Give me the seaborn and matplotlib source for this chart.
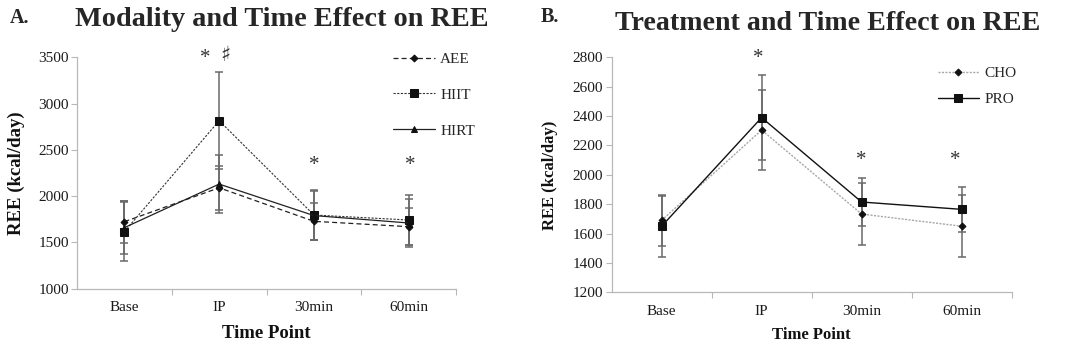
import numpy as np
import pandas as pd
import matplotlib
matplotlib.use("Agg")
import matplotlib.pyplot as plt
import seaborn as sns

# ---------------- data ----------------
time_points = ["Base", "IP", "30min", "60min"]

# Panel A: modality
aee_mean = [1724, 2090, 1728, 1670]
aee_sd = [225, 235, 200, 200]
hiit_mean = [1616, 2815, 1796, 1742]
hiit_sd = [316, 525, 270, 270]
hirt_mean = [1660, 2130, 1790, 1710]
hirt_sd = [285, 315, 265, 255]

# Panel B: treatment
cho_mean = [1690, 2305, 1733, 1650]
cho_sd = [175, 275, 210, 210]
pro_mean = [1650, 2390, 1815, 1765]
pro_sd = [208, 290, 165, 155]

title_a = "Modality and Time Effect on REE"
title_b = "Treatment and Time Effect on REE"
ylabel = "REE (kcal/day)"
xlabel = "Time Point"

# ---------------- style ----------------
sns.set_theme(style="white")
plt.rcParams["font.family"] = ["Liberation Serif", "DejaVu Sans"]
plt.rcParams["axes.edgecolor"] = "#b8b8b8"

fig = plt.figure(figsize=(10.73, 3.47), dpi=100)
axA = fig.add_axes([0.0718, 0.168, 0.3532, 0.667])
axB = fig.add_axes([0.570, 0.1576, 0.3728, 0.677])

xpos = np.arange(len(time_points))


def draw_series(ax, mean, sd, label, ls, marker, ms, lc, lw, dashes=None):
    df = pd.DataFrame({"x": xpos, "y": mean})
    ax.errorbar(xpos, mean, yerr=sd, fmt="none", ecolor="#6a6a6a",
                elinewidth=1.1, capsize=3, capthick=1.1, zorder=2)
    kw = dict(x="x", y="y", data=df, ax=ax, color=lc, linewidth=lw,
              marker=marker, markersize=ms, markerfacecolor="#111111",
              markeredgecolor="#111111", label=label, zorder=3)
    line = sns.lineplot(**kw, linestyle=ls)
    if dashes is not None:
        line.lines[-1].set_dashes(dashes)
    return line


# Panel A
draw_series(axA, aee_mean, aee_sd, "AEE", "--", "D", 3.5, "#222222", 0.9, dashes=(4, 2.5))
draw_series(axA, hiit_mean, hiit_sd, "HIIT", ":", "s", 5.5, "#333333", 0.8, dashes=(2, 1.3))
draw_series(axA, hirt_mean, hirt_sd, "HIRT", "-", "^", 4.5, "#222222", 0.9)

# Panel B
draw_series(axB, cho_mean, cho_sd, "CHO", ":", "D", 3.5, "#a8a8a8", 1.0, dashes=(1.5, 1))
draw_series(axB, pro_mean, pro_sd, "PRO", "-", "s", 5.5, "#111111", 1.0)

for ax, lo, hi, step, fs_lab, fs_tick, lp in [(axA, 1000, 3500, 500, 13.5, 11, 8),
                                                (axB, 1200, 2800, 200, 12, 11, 6.5)]:
    ax.set_xlim(-0.5, 3.5)
    ax.set_ylim(lo, hi)
    ax.set_yticks(np.arange(lo, hi + 1, step))
    ax.set_xticks(xpos)
    ax.set_xticklabels(time_points)
    ax.set_xticks([0.5, 1.5, 2.5, 3.5], minor=True)
    ax.tick_params(axis="x", which="major", length=0, pad=9, labelsize=fs_tick, colors="#1a1a1a")
    ax.tick_params(axis="x", which="minor", length=4, width=0.8, color="#b8b8b8", direction="out")
    ax.tick_params(axis="y", which="major", length=4, width=0.8, color="#b8b8b8",
                   direction="out", labelsize=fs_tick, labelcolor="#1a1a1a", pad=2)
    ax.yaxis.set_ticks_position("left")
    ax.xaxis.set_ticks_position("bottom")
    for s in ["top", "right"]:
        ax.spines[s].set_visible(False)
    for s in ["left", "bottom"]:
        ax.spines[s].set_linewidth(0.9)
    ax.set_ylabel(ylabel, fontsize=fs_lab, fontweight="bold", color="#111111")
    ax.set_xlabel(xlabel, fontsize=fs_lab, fontweight="bold", color="#111111", labelpad=lp)
    ax.grid(False)

axA.yaxis.set_label_coords(-0.137, 0.5)
axB.yaxis.set_label_coords(-0.134, 0.5)

# legends
legA = axA.legend(loc="upper left", bbox_to_anchor=(0.835, 1.022), frameon=False,
                  fontsize=11, handlelength=2.7, labelspacing=1.45, borderpad=0,
                  borderaxespad=0, handletextpad=0.35)
legB = axB.legend(loc="upper left", bbox_to_anchor=(0.815, 0.962), frameon=False,
                  fontsize=11, handlelength=2.7, labelspacing=0.8, borderpad=0,
                  borderaxespad=0, handletextpad=0.35)

# significance marks
star_kw = dict(ha="center", va="center", fontsize=15, color="#333333", clip_on=False)
axA.text(0.85, 3485, "*", **star_kw)
axA.text(1.06, 3520, "\u266f", ha="center", va="center", fontsize=15, color="#333333",
         clip_on=False, family=["DejaVu Sans"])
axA.text(2.0, 2330, "*", **star_kw)
axA.text(3.02, 2330, "*", **star_kw)
axB.text(0.97, 2795, "*", **star_kw)
axB.text(2.0, 2100, "*", **star_kw)
axB.text(2.94, 2100, "*", **star_kw)

# panel titles
fig.text(10 / 1073, 1 - 22.7 / 347, "A.", fontsize=14.5, fontweight="bold", va="baseline", ha="left")
fig.text(282 / 1073, 1 - 26 / 347, title_a, fontsize=20.3, fontweight="bold", va="baseline", ha="center")
fig.text(541 / 1073, 1 - 21.7 / 347, "B.", fontsize=14.5, fontweight="bold", va="baseline", ha="left")
fig.text(828 / 1073, 1 - 30 / 347, title_b, fontsize=20.2, fontweight="bold", va="baseline", ha="center")

fig.savefig("out.png", dpi=100)
